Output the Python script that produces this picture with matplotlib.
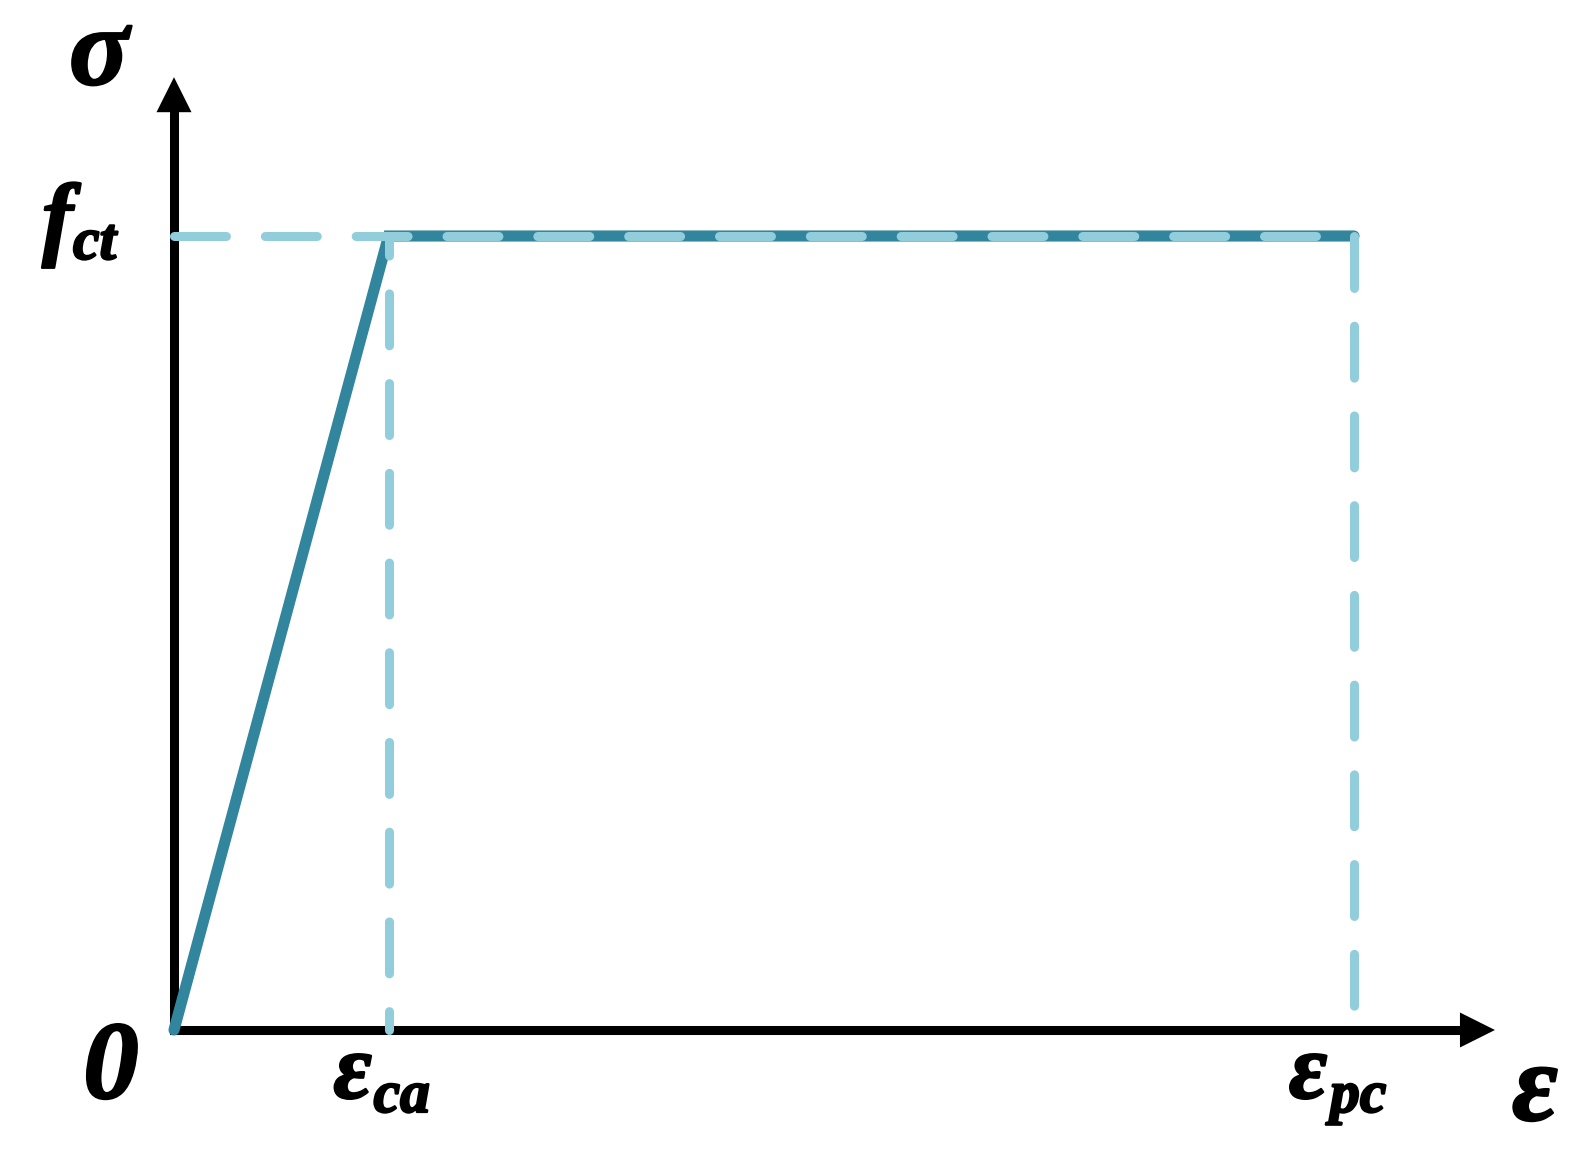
import matplotlib
matplotlib.use('Agg')
import matplotlib.pyplot as plt
from matplotlib.transforms import offset_copy
from matplotlib import font_manager as fm
import matplotlib.patheffects as pe

plt.rcParams['lines.scale_dashes'] = False

# ---- data (schematic, normalised) ----
eps_ca = 1.0
eps_pc = 5.5
f_ct = 1.0
curve_x = [0.0, eps_ca, eps_pc]
curve_y = [0.0, f_ct, f_ct]
x_axis_end = 6.157
y_axis_end = 1.200

origin_label = "0"
y_axis_label = "σ"
x_axis_label = "ε"
fct_main, fct_sub = "f", "ct"
ca_main, ca_sub = "ε", "ca"
pc_main, pc_sub = "ε", "pc"

teal = "#31859C"
light = "#92CDDC"

W, H = 1588, 1158
fig = plt.figure(figsize=(W / 100, H / 100), dpi=100)
ax = fig.add_axes([0, 0, 1, 1])
ax.set_axis_off()

# pixel layout of the drawing
ox, oy = 174, 1030
px_x = (1354 - 174) / eps_pc
px_y = (1030 - 236) / f_ct
ax.set_xlim(-ox / px_x, (W - ox) / px_x)
ax.set_ylim(-(H - oy) / px_y, oy / px_y)

axis_lw = 6.5
head_len_px = 35
# axes
ax.plot([0, x_axis_end - head_len_px / px_x], [0, 0], color='k', lw=axis_lw,
        solid_capstyle='projecting', zorder=1)
ax.plot([0, 0], [0, y_axis_end - head_len_px / px_y], color='k', lw=axis_lw,
        solid_capstyle='projecting', zorder=1)
astyle = '-|>,head_length=25.2,head_width=12.6'
for tip in [(x_axis_end, 0), (0, y_axis_end)]:
    ax.annotate('', xy=tip, xytext=(0, 0),
                arrowprops=dict(arrowstyle=astyle, mutation_scale=1, lw=0,
                                color='k', shrinkA=0, shrinkB=0), zorder=1)

# constitutive curve
ax.plot(curve_x, curve_y, color=teal, lw=8.0, solid_capstyle='round',
        solid_joinstyle='miter', zorder=2)

# dashed guide lines
kw = dict(color=light, lw=6.5, dash_capstyle='round', zorder=3)
ax.plot([0, eps_pc], [f_ct, f_ct], ls=(0, (37.4, 28.0)), **kw)
ax.plot([eps_ca, eps_ca], [f_ct, 0], ls=(23.3, (37.4, 27.2)), **kw)
ax.plot([eps_pc, eps_pc], [f_ct, 0], ls=(0, (37.4, 27.2)), **kw)

# font: Times-like bold italic
bi = [f for f in fm.fontManager.ttflist
      if f.name == 'Liberation Serif' and f.style == 'italic']


def _w(f):
    if isinstance(f.weight, (int, float)):
        return f.weight
    return 700 if 'bold' in str(f.weight) else 400


bi.sort(key=_w)
if bi:
    fprop = fm.FontProperties(fname=bi[-1].fname)
else:
    fprop = fm.FontProperties(family='Liberation Serif', weight='bold',
                              style='italic')
effects = [pe.withStroke(linewidth=1.6, foreground='k')]


def label(x, y, s, dx, dy, size, ha='left'):
    tr = offset_copy(ax.transData, fig=fig, x=dx, y=-dy, units='dots')
    p = fprop.copy()
    p.set_size(size)
    ax.text(x, y, s, transform=tr, fontproperties=p, ha=ha, va='baseline',
            color='k', path_effects=effects)


label(0, 0, origin_label, -63, 68, 80, ha='center')
label(0, y_axis_end, y_axis_label, -75, 7, 80, ha='center')
label(x_axis_end, 0, x_axis_label, 40, 90, 80, ha='center')

label(0, f_ct, fct_main, -132, 12, 67)
label(0, f_ct, fct_sub, -101, 23, 43)
label(eps_ca, 0, ca_main, -55, 68, 67)
label(eps_ca, 0, ca_sub, -15, 82, 43)
label(eps_pc, 0, pc_main, -65, 68, 67)
label(eps_pc, 0, pc_sub, -24, 82, 43)

fig.savefig('out.png', dpi=100)
